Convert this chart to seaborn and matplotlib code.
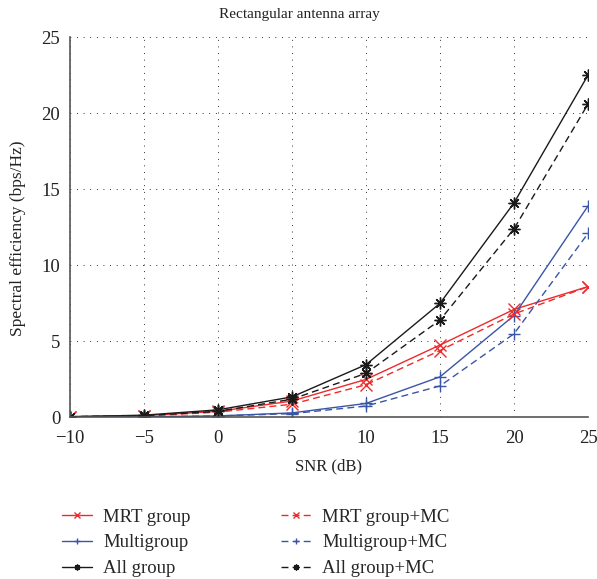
import pandas as pd
import numpy as np
import matplotlib.pyplot as plt
import seaborn as sns

# SNR values (dB)
snr = [-10, -5, 0, 5, 10, 15, 20, 25]

# Spectral efficiency (bps/Hz)
mrt_group = [0.05, 0.12, 0.40, 1.08, 2.50, 4.76, 7.10, 8.60]
multigroup = [0.02, 0.05, 0.10, 0.30, 0.92, 2.67, 6.70, 13.90]
all_group = [0.05, 0.15, 0.50, 1.35, 3.47, 7.50, 14.10, 22.50]
mrt_group_mc = [0.05, 0.10, 0.35, 0.87, 2.15, 4.40, 6.80, 8.60]
multigroup_mc = [0.02, 0.04, 0.10, 0.25, 0.75, 2.07, 5.50, 12.10]
all_group_mc = [0.05, 0.12, 0.40, 1.20, 2.90, 6.40, 12.40, 20.60]

labels = ['MRT group', 'Multigroup', 'All group',
          'MRT group+MC', 'Multigroup+MC', 'All group+MC']
series = [mrt_group, multigroup, all_group,
          mrt_group_mc, multigroup_mc, all_group_mc]

red = '#ee2a2a'
blue = '#3a55a6'
black = '#1a1a1a'
colors = [red, blue, black, red, blue, black]
markers = ['x', '+', (8, 2, 0), 'x', '+', (8, 2, 0)]
styles = ['-', '-', '-', (0, (5, 3)), (0, (5, 3)), (0, (5, 3))]

sns.set_style('white')
plt.rcParams['font.family'] = ['Liberation Serif', 'DejaVu Serif']
plt.rcParams['font.size'] = 12

fig = plt.figure(figsize=(5.97, 5.79), dpi=100)
ax = fig.add_axes([0.117, 0.279, 0.868, 0.657])

for lab, vals, c, m, ls in zip(labels, series, colors, markers, styles):
    df = pd.DataFrame({'SNR': snr, 'SE': vals})
    sns.lineplot(data=df, x='SNR', y='SE', ax=ax, color=c, marker=m,
                 markersize=8.5, markeredgewidth=1.0, markeredgecolor=c,
                 markerfacecolor=c, linewidth=1.0,
                 linestyle=ls, label=lab, legend=False)

ax.set_xlim(-10, 25)
ax.set_ylim(0, 25)
ax.set_xticks(np.arange(-10, 26, 5))
ax.set_yticks(np.arange(0, 26, 5))
ax.set_xticklabels(['\u221210', '\u22125', '0', '5', '10', '15', '20', '25'])
ax.grid(True, color='black', linewidth=0.7, linestyle=(0, (0.8, 6)))
for s in ['top', 'right']:
    ax.spines[s].set_visible(False)
for s in ['left', 'bottom']:
    ax.spines[s].set_color('#555555')
    ax.spines[s].set_linewidth(1.2)
ax.tick_params(direction='in', length=3, colors='#555555', labelcolor='#222222',
               labelsize=13.5, pad=7)
ax.tick_params(axis='x', pad=9)

# title is centred on the figure, not on the axes
ax.set_title('Rectangular antenna array', fontsize=11, color='#222222', pad=14, x=0.442)
ax.set_xlabel('SNR (dB)', fontsize=12, color='#222222', labelpad=8)
ax.set_ylabel('Spectral efficiency (bps/Hz)', fontsize=12.5, color='#222222')
ax.yaxis.set_label_coords(-0.084, 0.47)

handles, labs = ax.get_legend_handles_labels()
fig.legend(handles, labs, loc='lower left', bbox_to_anchor=(0.075, -0.026),
           ncol=2, frameon=False, fontsize=13.5, handlelength=1.6,
           markerscale=0.5, columnspacing=4.8, labelspacing=0.46,
           handletextpad=0.62)

fig.savefig('out.png', dpi=100)
